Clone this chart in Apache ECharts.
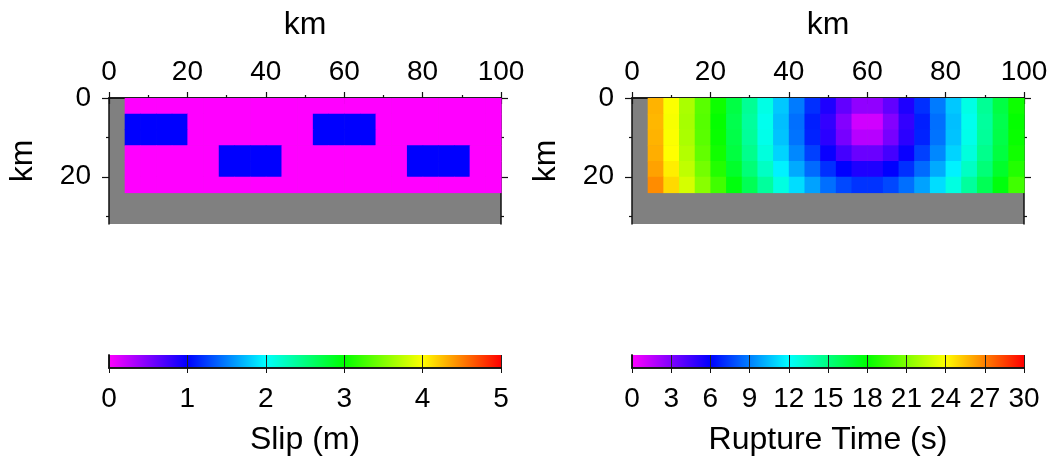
<!DOCTYPE html>
<html>
  <head>
    <meta charset="utf-8" />
    <title>Slip and rupture time</title>
    <script src="https://cdn.jsdelivr.net/npm/echarts@6/dist/echarts.min.js"></script>
  </head>
  <body style="margin: 0">
    <div id="main" style="width: 1052px; height: 468px"></div>

    <script>
      // fault cells, 4 km x 4 km, start of each cell along strike / down dip (km)
      var strikeStarts = [4, 8, 12, 16, 20, 24, 28, 32, 36, 40, 44, 48, 52, 56, 60, 64, 68, 72, 76, 80, 84, 88, 92, 96];
      var dipStarts = [0, 4, 8, 12, 16, 20];
      var cellSize = 4;

      // slip (m), one row per depth cell
      var slipRows = [
        [0, 0, 0, 0, 0, 0, 0, 0, 0, 0, 0, 0, 0, 0, 0, 0, 0, 0, 0, 0, 0, 0, 0, 0],
        [1, 1, 1, 1, 0, 0, 0, 0, 0, 0, 0, 0, 1, 1, 1, 1, 0, 0, 0, 0, 0, 0, 0, 0],
        [1, 1, 1, 1, 0, 0, 0, 0, 0, 0, 0, 0, 1, 1, 1, 1, 0, 0, 0, 0, 0, 0, 0, 0],
        [0, 0, 0, 0, 0, 0, 1, 1, 1, 1, 0, 0, 0, 0, 0, 0, 0, 0, 1, 1, 1, 1, 0, 0],
        [0, 0, 0, 0, 0, 0, 1, 1, 1, 1, 0, 0, 0, 0, 0, 0, 0, 0, 1, 1, 1, 1, 0, 0],
        [0, 0, 0, 0, 0, 0, 0, 0, 0, 0, 0, 0, 0, 0, 0, 0, 0, 0, 0, 0, 0, 0, 0, 0]
      ];

      // rupture time (s), read at cell centres
      var ruptureRows = [
        [25.8, 23.9, 22.0, 20.1, 18.3, 16.4, 14.5, 12.6, 10.7, 8.9, 7.1, 5.3, 3.7, 2.6, 2.6, 3.7, 5.3, 7.1, 8.9, 10.7, 12.6, 14.5, 16.4, 18.3],
        [25.7, 23.8, 21.9, 20.0, 18.1, 16.2, 14.3, 12.4, 10.5, 8.6, 6.7, 4.8, 2.9, 1.1, 1.1, 2.9, 4.8, 6.7, 8.6, 10.5, 12.4, 14.3, 16.2, 18.1],
        [25.8, 23.9, 22.0, 20.1, 18.2, 16.3, 14.4, 12.5, 10.6, 8.7, 6.8, 5.0, 3.2, 1.7, 1.7, 3.2, 5.0, 6.8, 8.7, 10.6, 12.5, 14.4, 16.3, 18.2],
        [25.9, 24.0, 22.2, 20.3, 18.4, 16.5, 14.7, 12.8, 11.0, 9.2, 7.5, 5.8, 4.4, 3.5, 3.5, 4.4, 5.8, 7.5, 9.2, 11.0, 12.8, 14.7, 16.5, 18.4],
        [26.2, 24.4, 22.5, 20.7, 18.8, 17.0, 15.2, 13.4, 11.7, 10.0, 8.5, 7.1, 6.0, 5.3, 5.3, 6.0, 7.1, 8.5, 10.0, 11.7, 13.4, 15.2, 17.0, 18.8],
        [26.7, 24.9, 23.0, 21.2, 19.5, 17.7, 16.0, 14.3, 12.7, 11.2, 9.8, 8.6, 7.7, 7.2, 7.2, 7.7, 8.6, 9.8, 11.2, 12.7, 14.3, 16.0, 17.7, 19.5]
      ];

      var slipTicks = [0, 1, 2, 3, 4, 5];
      var timeTicks = [0, 3, 6, 9, 12, 15, 18, 21, 24, 27, 30];
      var palette = ["#ff00ff", "#0000ff", "#00ffff", "#00ff00", "#ffff00", "#ff0000"];

      var font = { fontFamily: "Liberation Sans", fontSize: 28, color: "#000" };
      var nameFont = { fontFamily: "Liberation Sans", fontSize: 32, color: "#000" };
      var frame = { show: true, lineStyle: { color: "#111", width: 1.5 } };

      function toCells(rows) {
        var out = [];
        rows.forEach(function (row, j) {
          row.forEach(function (v, i) {
            out.push([strikeStarts[i], dipStarts[j], v]);
          });
        });
        return out;
      }

      function renderCell(params, api) {
        var p0 = api.coord([api.value(0), api.value(1)]);
        var p1 = api.coord([api.value(0) + cellSize, api.value(1) + cellSize]);
        return {
          type: "rect",
          shape: {
            x: Math.min(p0[0], p1[0]),
            y: Math.min(p0[1], p1[1]),
            width: Math.abs(p1[0] - p0[0]) + 0.6,
            height: Math.abs(p1[1] - p0[1]) + 0.6,
          },
          style: { fill: api.visual("color") },
        };
      }

      function renderBar(params, api) {
        var p0 = api.coord([api.value(0), 1]);
        var p1 = api.coord([api.value(1), 0]);
        var stops = palette.map(function (c, i) {
          return { offset: i / (palette.length - 1), color: c };
        });
        return {
          type: "rect",
          shape: { x: p0[0], y: p0[1], width: p1[0] - p0[0], height: p1[1] - p0[1] },
          style: { fill: new echarts.graphic.LinearGradient(0, 0, 1, 0, stops) },
        };
      }

      var grids = [
        { left: 109, top: 98, width: 392, height: 126, show: true, backgroundColor: "#808080", borderWidth: 0 },
        { left: 632, top: 98, width: 392, height: 126, show: true, backgroundColor: "#808080", borderWidth: 0 },
        { left: 109, top: 355, width: 392, height: 13 },
        { left: 632, top: 355, width: 392, height: 13 },
      ];

      var xAxes = [];
      var yAxes = [];
      [0, 1].forEach(function (g) {
        ["top", "bottom"].forEach(function (pos) {
          xAxes.push({
            type: "value", gridIndex: g, position: pos, min: 0, max: 100, interval: 20,
            name: pos === "top" ? "km" : "", nameLocation: "middle", nameGap: 57, nameTextStyle: nameFont,
            axisLine: frame,
            axisTick: { show: true, inside: false, length: 6, lineStyle: { color: "#111", width: 1.2 } },
            minorTick: { show: true, splitNumber: 2, length: 3, lineStyle: { color: "#111", width: 1.2 } },
            axisLabel: Object.assign({ show: pos === "top", margin: 12 }, font),
            splitLine: { show: false },
          });
        });
        ["left", "right"].forEach(function (pos) {
          yAxes.push({
            type: "value", gridIndex: g, position: pos, inverse: true, min: 0, max: 32,
            name: pos === "left" ? "km" : "", nameLocation: "middle", nameGap: 70, nameTextStyle: nameFont,
            axisLine: frame,
            axisTick: { show: true, length: 7, customValues: [0, 20], lineStyle: { color: "#111", width: 1.2 } },
            axisLabel: Object.assign({ show: pos === "left", margin: 18, customValues: [0, 20] }, font),
            splitLine: { show: false },
          });
          yAxes.push({
            type: "value", gridIndex: g, position: pos, inverse: true, min: 0, max: 32,
            axisLine: { show: false },
            axisTick: { show: true, length: 3, customValues: [10, 30], lineStyle: { color: "#111", width: 1.2 } },
            axisLabel: { show: false },
            splitLine: { show: false },
          });
        });
      });

      [[2, slipTicks, "Slip (m)"], [3, timeTicks, "Rupture Time (s)"]].forEach(function (cb) {
        var ticks = cb[1];
        xAxes.push({
          type: "value", gridIndex: cb[0], position: "bottom", z: 5,
          min: ticks[0], max: ticks[ticks.length - 1], interval: ticks[1] - ticks[0],
          name: cb[2], nameLocation: "middle", nameGap: 56, nameTextStyle: nameFont,
          axisLine: frame,
          axisTick: { show: true, length: 5, lineStyle: { color: "#111", width: 1 } },
          axisLabel: Object.assign({ margin: 17 }, font),
          splitLine: { show: true, lineStyle: { color: "#222", width: 1 } },
        });
        xAxes.push({
          type: "value", gridIndex: cb[0], position: "top", z: 5,
          min: ticks[0], max: ticks[ticks.length - 1],
          axisLine: frame, axisTick: { show: false }, axisLabel: { show: false }, splitLine: { show: false },
        });
        ["left", "right"].forEach(function (pos) {
          yAxes.push({
            type: "value", gridIndex: cb[0], position: pos, min: 0, max: 1, z: 5,
            axisLine: frame, axisTick: { show: false }, axisLabel: { show: false }, splitLine: { show: false },
          });
        });
      });

      var myChart = echarts.init(document.getElementById("main"));

      var option = {
        animation: false,
        backgroundColor: "#fff",
        grid: grids,
        xAxis: xAxes,
        yAxis: yAxes,
        visualMap: [
          { type: "continuous", show: false, seriesIndex: 0, dimension: 2, min: slipTicks[0], max: slipTicks[slipTicks.length - 1], inRange: { color: palette } },
          { type: "continuous", show: false, seriesIndex: 1, dimension: 2, min: timeTicks[0], max: timeTicks[timeTicks.length - 1], inRange: { color: palette } },
        ],
        series: [
          { type: "custom", name: "slip", xAxisIndex: 0, yAxisIndex: 0, renderItem: renderCell, data: toCells(slipRows) },
          { type: "custom", name: "rupture", xAxisIndex: 2, yAxisIndex: 4, renderItem: renderCell, data: toCells(ruptureRows) },
          { type: "custom", xAxisIndex: 4, yAxisIndex: 8, renderItem: renderBar, data: [[slipTicks[0], slipTicks[slipTicks.length - 1]]] },
          { type: "custom", xAxisIndex: 6, yAxisIndex: 10, renderItem: renderBar, data: [[timeTicks[0], timeTicks[timeTicks.length - 1]]] },
        ],
      };

      myChart.setOption(option);
    </script>
  </body>
</html>
